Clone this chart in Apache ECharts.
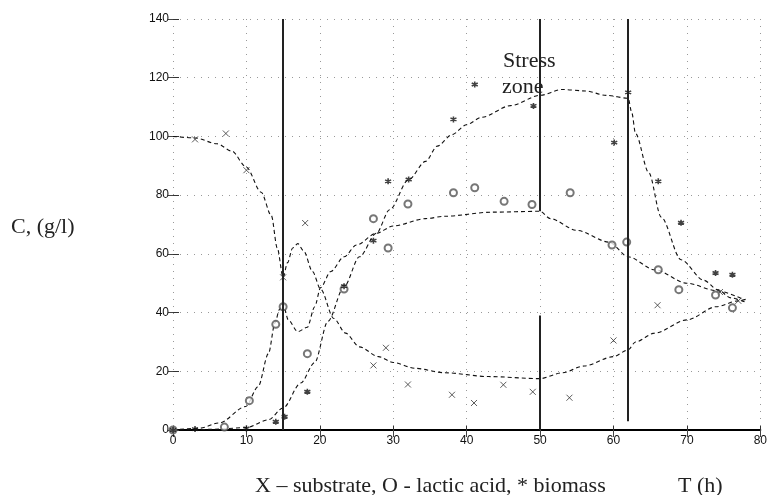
<!DOCTYPE html>
<html>
<head>
<meta charset="utf-8">
<script src="https://cdn.jsdelivr.net/npm/echarts@6/dist/echarts.min.js"></script>
<style>html,body{margin:0;padding:0;background:#fff}#c{width:770px;height:495px}</style>
</head>
<body>
<div id="c"></div>
<script>
// ---- data (time h, concentration g/l) ----
const xTicks = [0, 10, 20, 30, 40, 50, 60, 70, 80];
const yTicks = [0, 20, 40, 60, 80, 100, 120, 140];
// vertical stage lines: [time, from C, to C]
const stageSegments = [[15, 0, 140], [50, 74.5, 140], [50, 0, 39], [62, 3, 140]];

const substrateCurve = [[0,100],[3,99.5],[6,97.5],[8,95],[10,89.5],[12,81],[13.4,73],[14.2,62],[15,52],[15.6,57],[16.3,62],[17,63.5],[17.8,61],[19,54],[20.1,48],[21.9,38],[23.5,33],[25.4,28.3],[28,25],[30,23],[33,21],[37,19.5],[43,18.2],[50,17.5],[53,19.5],[56,21.8],[60,25],[62,27.3],[63,30],[65.6,33],[70,37.5],[74,42],[77,44],[78,44.5]];
const lacticCurve = [[0,0],[3.6,0.6],[6.3,2.4],[9.9,8],[11.6,14.8],[13,26],[13.9,36.5],[14.5,41],[15,43],[15.7,37.5],[17,33.5],[18.3,35],[19.3,42],[20.1,48.5],[21.5,54],[23.3,59],[25,63],[27.7,67],[30,69.5],[34.4,72],[37,72.8],[43.4,74.2],[50,74.5],[51.4,72],[55,68],[59.4,64],[62,59],[65.6,54.6],[70,50],[74,47.5],[77.7,44.5]];
const biomassCurve = [[0,0],[5,0.2],[10,0.8],[13,3.5],[15,7.5],[17.4,16],[19.3,23],[21.1,37],[23.3,48.8],[25.4,59],[27.7,67],[29.5,75],[32.1,85.3],[34.4,91.5],[36,96.7],[38,100.6],[40,104],[42,106.5],[46,110.5],[50,114],[53,116],[56.2,115.5],[59,114],[62,113],[62.5,108],[63,101],[64.8,87.7],[66.5,72.5],[69.2,58],[72.3,51],[74.2,47.8],[76,45],[78,43.5]];

const substratePts = [[3,99],[7.2,101],[10,88.5],[15,52],[18,70.5],[27.3,22],[29,28],[32,15.5],[38,12],[41,9.2],[45,15.4],[49,13],[54,11],[60,30.5],[66,42.5],[74.5,47],[77,44]];
const lacticPts = [[0,0],[7,1],[10.4,10],[14,36],[15,42],[18.3,26],[23.3,48],[27.3,72],[29.3,62],[32,77],[38.2,80.8],[41.1,82.5],[45.1,77.9],[48.9,76.8],[54.1,80.8],[59.8,63],[61.8,64],[66.1,54.6],[68.9,47.8],[73.9,46],[76.2,41.6]];
const biomassPts = [[0,0],[3,0.3],[10,0.5],[14,2.8],[15.2,4.5],[18.3,13],[23.3,49],[27.3,64.5],[29.3,84.7],[32.1,85.3],[38.2,105.8],[41.1,117.7],[49.1,110.4],[60.1,97.9],[62,115],[66.1,84.7],[69.2,70.6],[73.9,53.5],[76.2,52.9]];

const texts = {
  stress: 'Stress', zone: 'zone', yName: 'C, (g/l)',
  legend: 'X \u2013 substrate, O - lactic acid, * biomass', xName: 'T (h)'
};

const chart = echarts.init(document.getElementById('c'), null, {renderer: 'canvas'});
const dash = {color: '#111', width: 1.1, type: [4, 3]};
const curve = (name, data, extra) => Object.assign({
  name, type: 'line', data, smooth: 0.3, smoothMonotone: 'x', showSymbol: false,
  lineStyle: dash, silent: true, z: 3
}, extra || {});
const pts = (name, data, symbol, size, style) => ({
  name, type: 'scatter', data, symbol, symbolSize: size, itemStyle: style, silent: true, z: 4
});
const XSYM = 'path://M0,0L10,10M10,0L0,10';
const STAR = 'path://M5,0L5,10M0,2.5L10,7.5M0,7.5L10,2.5';
const serif = '22px "Liberation Serif", "DejaVu Serif", serif';
const tickFmt = list => v => list.includes(v) ? String(v) : '';
const grid = {show: true, lineStyle: {color: '#999', width: 1, type: [1, 6]}};

chart.setOption({
  animation: false,
  backgroundColor: '#fff',
  grid: {left: 173, right: 2, top: 19, bottom: 65},
  xAxis: [{
    type: 'value', min: 0, max: 80, interval: 10,
    axisLine: {show: true, lineStyle: {color: '#000', width: 2}},
    axisTick: {show: true, inside: true, length: 4, lineStyle: {color: '#333'}},
    axisLabel: {fontSize: 12, color: '#111', margin: 5, fontFamily: 'Liberation Sans', formatter: tickFmt(xTicks)},
    splitLine: grid
  }, {
    type: 'value', position: 'top', min: 0, max: 80, interval: 10,
    axisLine: {show: false}, axisLabel: {show: false}, splitLine: {show: false},
    axisTick: {show: true, inside: true, length: 7, lineStyle: {color: '#444'}}
  }],
  yAxis: [{
    type: 'value', min: 0, max: 140, interval: 20,
    axisLine: {show: false},
    axisTick: {show: true, inside: true, length: 6, lineStyle: {color: '#333'}},
    axisLabel: {fontSize: 12, color: '#111', margin: 4, fontFamily: 'Liberation Sans', formatter: tickFmt(yTicks)},
    splitLine: grid
  }, {
    type: 'value', position: 'right', min: 0, max: 140, interval: 20,
    axisLine: {show: false}, axisLabel: {show: false}, splitLine: {show: false},
    axisTick: {show: true, inside: true, length: 5, lineStyle: {color: '#444'}}
  }],
  series: [
    curve('substrate', substrateCurve, {
      markLine: {
        silent: true, symbol: ['none', 'none'], label: {show: false},
        lineStyle: {color: '#222', width: 2, type: 'solid'},
        data: stageSegments.map(s => [{coord: [s[0], s[1]]}, {coord: [s[0], s[2]]}])
      }
    }),
    curve('lactic', lacticCurve),
    curve('biomass', biomassCurve),
    pts('substrate pts', substratePts, XSYM, 6, {color: 'none', borderColor: '#333', borderWidth: 1}),
    pts('lactic pts', lacticPts, 'emptyCircle', 7, {color: '#555', borderWidth: 0.9}),
    pts('biomass pts', biomassPts, STAR, 6, {color: 'none', borderColor: '#111', borderWidth: 1.6})
  ],
  graphic: [
    {type: 'text', left: 503, top: 50, style: {text: texts.stress, font: serif, fill: '#222'}},
    {type: 'text', left: 502, top: 76, style: {text: texts.zone, font: serif, fill: '#222'}},
    {type: 'text', left: 11, top: 216, style: {text: texts.yName, font: serif, fill: '#222'}},
    {type: 'text', left: 255, top: 475, style: {text: texts.legend, font: serif, fill: '#222'}},
    {type: 'text', left: 678, top: 475, style: {text: texts.xName, font: serif, fill: '#222'}}
  ]
});
</script>
</body>
</html>
